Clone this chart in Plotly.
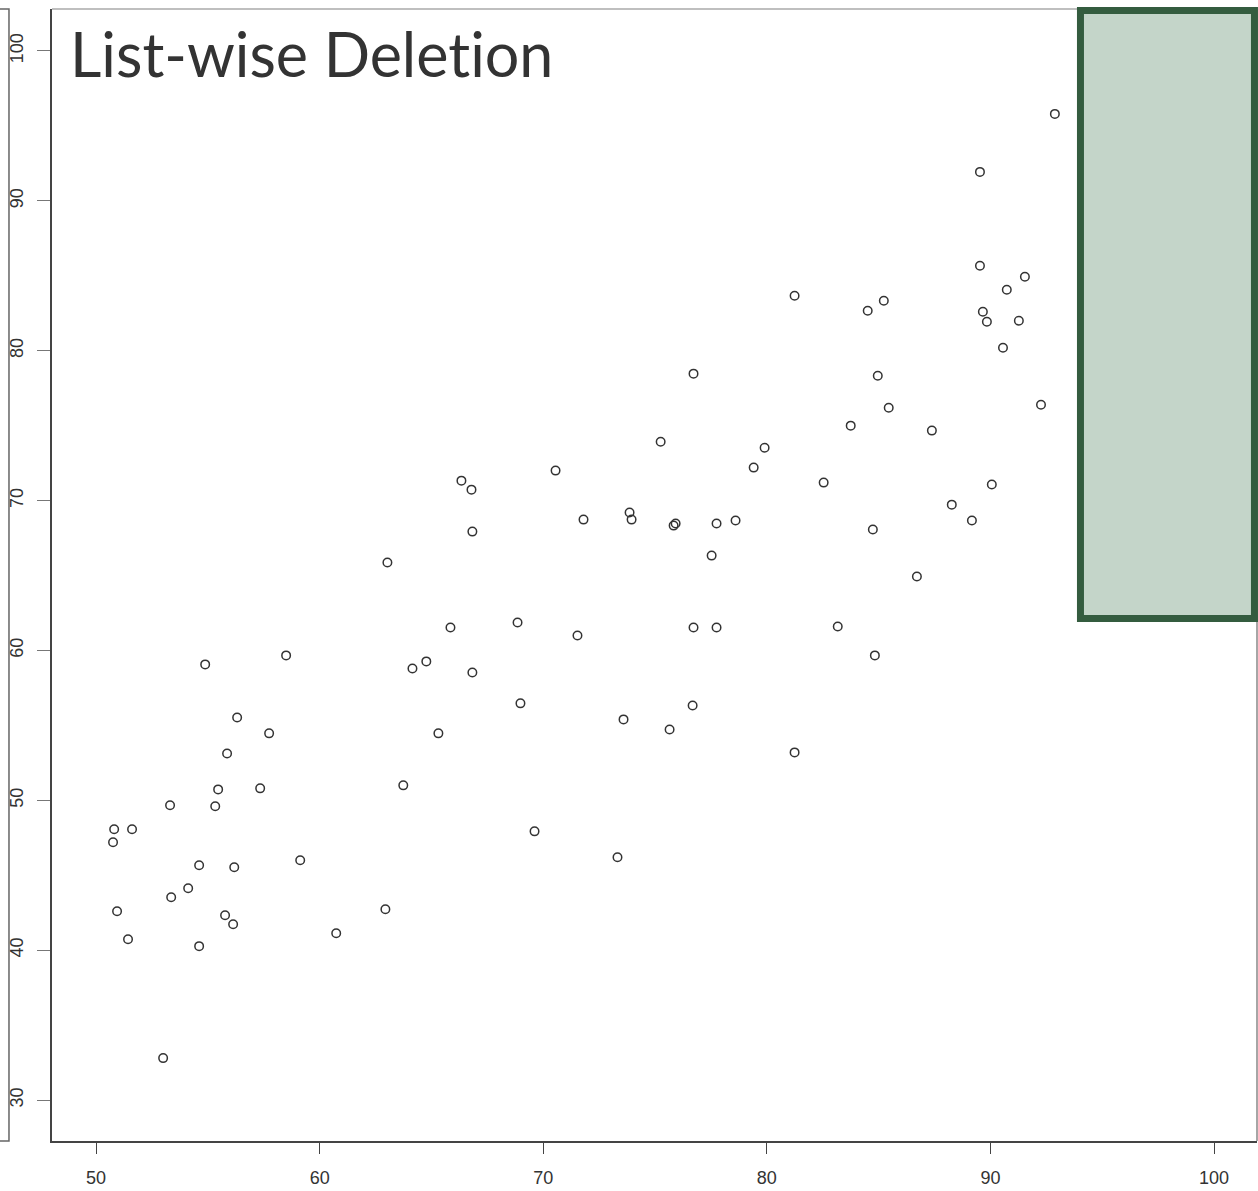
import plotly.graph_objects as go

# Observed scores (x) against scores retained after list-wise deletion (y)
x_vals = [92.88, 89.53, 89.53, 91.54, 90.73, 89.66, 89.84, 91.27, 90.56, 92.26,
          81.24, 84.51, 85.23, 84.96, 85.45, 83.75, 87.38, 76.72, 75.25, 79.90,
          79.41, 82.54, 70.55, 66.34, 66.79, 66.83, 71.80, 73.86, 73.95, 75.83,
          75.92, 77.75, 78.60, 77.53, 90.06, 88.27, 89.17, 84.74, 86.71, 63.03,
          68.85, 65.85, 71.53, 76.72, 77.75, 83.17, 84.83, 54.88, 58.50, 64.77,
          64.15, 66.83, 56.31, 68.98, 73.59, 76.68, 75.65, 65.31, 57.74, 55.86,
          81.24, 57.34, 55.46, 63.74, 53.31, 55.33, 69.61, 50.81, 51.61, 50.76,
          73.32, 59.13, 54.61, 56.18, 54.12, 53.36, 50.94, 62.94, 55.77, 56.13,
          60.74, 51.43, 54.61, 53.00]
y_vals = [95.80, 91.93, 85.67, 84.93, 84.07, 82.60, 81.93, 82.00, 80.20, 76.40,
          83.67, 82.67, 83.33, 78.33, 76.20, 75.00, 74.67, 78.47, 73.93, 73.53,
          72.20, 71.20, 72.00, 71.33, 70.73, 67.93, 68.73, 69.20, 68.73, 68.33,
          68.47, 68.47, 68.67, 66.33, 71.07, 69.73, 68.67, 68.07, 64.93, 65.87,
          61.87, 61.53, 61.00, 61.53, 61.53, 61.60, 59.67, 59.07, 59.67, 59.27,
          58.80, 58.53, 55.53, 56.47, 55.40, 56.33, 54.73, 54.47, 54.47, 53.13,
          53.20, 50.80, 50.73, 51.00, 49.67, 49.60, 47.93, 48.07, 48.07, 47.20,
          46.20, 46.00, 45.67, 45.53, 44.13, 43.53, 42.60, 42.73, 42.33, 41.73,
          41.13, 40.73, 40.27, 32.80]

x_ticks = [50, 60, 70, 80, 90, 100]
y_ticks = [30, 40, 50, 60, 70, 80, 90, 100]
# zero-width non-joiner keeps the font from fusing "ti" into a ligature
title_text = "List-wise Delet\u200cion"

INK = "#333333"
AXIS_FONT = dict(family="Liberation Sans, Arial, sans-serif", size=18, color=INK)

fig = go.Figure()
fig.add_trace(go.Scatter(
    x=x_vals, y=y_vals, mode="markers",
    marker=dict(symbol="circle-open", size=8.5, color=INK, line=dict(width=1.5, color=INK)),
    hoverinfo="x+y", showlegend=False,
))

fig.update_layout(
    width=1258, height=1191,
    margin=dict(l=52, r=1, t=9, b=50),
    paper_bgcolor="white", plot_bgcolor="white",
    xaxis=dict(
        range=[48.03, 101.92], tickvals=x_ticks, ticktext=[str(v) for v in x_ticks],
        showgrid=False, zeroline=False, showline=True, linecolor="#444444", linewidth=1.5,
        ticks="outside", ticklen=11, tickwidth=1.3, tickcolor="#444444",
        tickfont=AXIS_FONT, ticklabelstandoff=9,
    ),
    yaxis=dict(
        range=[27.27, 102.8], tickvals=y_ticks, ticktext=[str(v) for v in y_ticks],
        showgrid=False, zeroline=False, showline=True, linecolor="#444444", linewidth=1.5,
        ticks="outside", ticklen=13, tickwidth=1.3, tickcolor="#777777",
        tickfont=AXIS_FONT, tickangle=-90, ticklabelstandoff=7,
    ),
)

# Remaining sides of the plot box
fig.add_shape(type="line", xref="paper", yref="paper", x0=0, x1=1, y0=1, y1=1,
              line=dict(color="#aaaaaa", width=1.5))
fig.add_shape(type="line", xref="paper", yref="paper", x0=1, x1=1, y0=0, y1=1,
              line=dict(color="#888888", width=1.5))

# Edge of the neighbouring frame on the far left
fig.add_shape(type="path", xref="paper", yref="paper",
              path="M -0.0432,1.0 L -0.0357,1.0 L -0.0357,0.0 L -0.0432,0.0",
              line=dict(color="#666666", width=1.5))

# Highlight box over the upper-right corner
fig.add_shape(type="rect", xref="paper", yref="paper",
              x0=0.8535, x1=0.9979, y0=0.4616, y1=0.9987,
              line=dict(color="#345c3f", width=7), fillcolor="#c4d5c9", layer="above")

fig.add_annotation(
    text=title_text, xref="paper", yref="paper", x=0.0133, y=0.995,
    xanchor="left", yanchor="top", showarrow=False,
    font=dict(family="Lato, sans-serif", size=61, color=INK),
)

fig.write_html("out.html")
